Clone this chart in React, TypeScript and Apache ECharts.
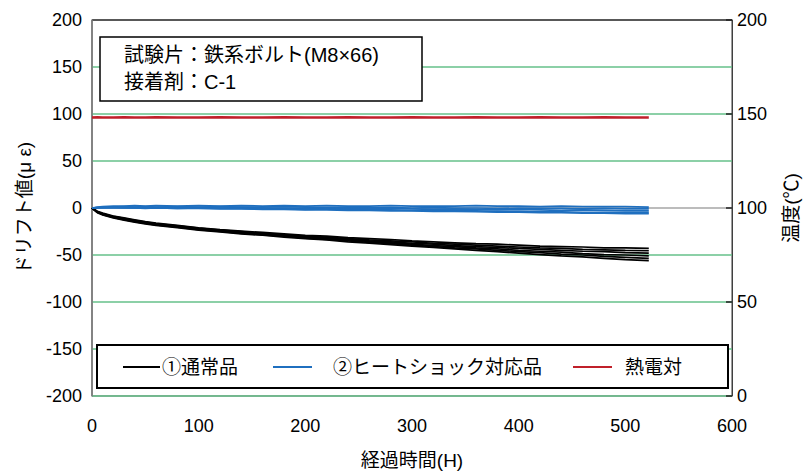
import React, { useEffect, useRef } from "react";
import * as echarts from "echarts";

const FONT = "'Liberation Sans', 'Noto Sans CJK JP', Arial, sans-serif";

const hours = [0, 5, 10, 20, 30, 40, 50, 60, 80, 100, 120, 140, 160, 180, 200, 220, 240, 260, 280, 300, 320, 340, 360, 380, 400, 420, 440, 460, 480, 500, 522];

const normalA = [0, -3.5, -5.5, -8.5, -10.5, -12.5, -14.5, -16, -18.5, -21, -23, -24.5, -26, -27.5, -29, -30, -31.5, -32.5, -33.5, -35, -36, -37, -38, -38.5, -39.5, -40.5, -41, -41.5, -42.5, -42.5, -43];
const normalB = [0, -4, -6, -9, -11, -13, -15, -16.5, -19, -21.5, -23.5, -25, -27, -28.5, -30, -31, -32.5, -34, -35, -36, -37.5, -38.5, -39.5, -40.5, -41.5, -42.5, -43, -44, -44.5, -45, -45.5];
const normalC = [0, -4, -6.5, -9.5, -11.5, -13.5, -15.5, -17, -19.5, -22, -24, -25.5, -27.5, -29, -30.5, -32, -33.5, -35, -36, -37.5, -38.5, -40, -41, -42, -43, -44, -45, -46, -46.5, -47.5, -48];
const normalD = [0, -4.5, -6.5, -9.5, -12, -14, -16, -17.5, -20, -22.5, -24.5, -26, -28, -29.5, -31, -32.5, -34, -35.5, -37, -38.5, -40, -41, -42.5, -43.5, -45, -46, -47, -48.5, -49.5, -50, -51];
const normalE = [0, -4.5, -7, -10, -12.5, -14.5, -16.5, -18, -20.5, -23, -25, -27, -28.5, -30, -32, -33.5, -35, -36.5, -38, -39.5, -41, -42.5, -43.5, -45, -46.5, -47.5, -49, -50, -51.5, -52.5, -53.5];
const normalF = [0, -5, -7.5, -10.5, -13, -15, -17, -18.5, -21, -23.5, -25.5, -27.5, -29, -31, -32.5, -34, -36, -37.5, -39, -40.5, -42, -43.5, -45, -46.5, -48, -49.5, -51, -52, -53.5, -55, -56];

const shockA = [0, 1, 1.5, 2, 2, 2.5, 2, 2.5, 2, 2.5, 2, 2.5, 2, 2.5, 2, 2.5, 2, 2, 2.5, 2, 2, 2, 2.5, 2, 2, 1.5, 2, 1.5, 1.5, 1.5, 1];
const shockB = [0, 0.5, 1, 1, 1.5, 1, 1.5, 1, 1.5, 1, 1.5, 1, 1, 1.5, 1, 0.5, 1, 0.5, 0.5, 0, 0.5, 0, 0, -0.5, 0, -0.5, -0.5, -1, -0.5, -1, -1];
const shockC = [0, 0.5, 0.5, 1, 1, 0.5, 1, 0.5, 0.5, 0.5, 0, 0.5, 0, 0, -0.5, 0, -0.5, -1, -0.5, -1, -1.5, -1, -1.5, -2, -1.5, -2, -2.5, -2, -2.5, -3, -3];
const shockD = [0, 0, 0.5, 0.5, 0, 0.5, 0, 0, -0.5, 0, -0.5, -0.5, -1, -1, -1.5, -1, -1.5, -2, -2, -2.5, -2.5, -3, -3, -3.5, -3.5, -4, -4, -4.5, -4.5, -5, -5];
const shockE = [0, 0, 0, 0.5, 0, 0, -0.5, 0, -0.5, -0.5, -1, -1, -1.5, -1.5, -2, -2, -2.5, -2.5, -3, -3, -3.5, -3.5, -4, -4.5, -4.5, -5, -5, -5.5, -5.5, -6, -6];

const thermo = [148.2, 148.3, 148.2, 148.2, 148.3, 148.2, 148.2, 148.3, 148.2, 148.2, 148.3, 148.2, 148.2, 148.3, 148.2, 148.2, 148.3, 148.2, 148.2, 148.3, 148.2, 148.2, 148.3, 148.2, 148.2, 148.3, 148.2, 148.2, 148.3, 148.2, 148.2];

const xTicks = { min: 0, max: 600, interval: 100 };
const leftTicks = { min: -200, max: 200, interval: 50 };
const rightTicks = { min: 0, max: 200, interval: 50 };

const nameNormal = "①通常品";
const nameShock = "②ヒートショック対応品";
const nameThermo = "熱電対";

const GREEN = "#66c08a";

function pairs(vals: number[]) {
  return hours.map((h, i) => [h, vals[i]]);
}

export default function App() {
  const ref = useRef<HTMLDivElement>(null);
  useEffect(() => {
    if (!ref.current) return;
    const chart = echarts.init(ref.current, null, { renderer: "svg" });
    const lineSeries = (name: string, vals: number[], color: string, yAxisIndex = 0, width = 1.7) => ({
      type: "line",
      name,
      data: pairs(vals),
      yAxisIndex,
      symbol: "none",
      lineStyle: { color, width },
      itemStyle: { color },
      z: 3,
    });
    const splitColors = [GREEN, GREEN, GREEN, GREEN, "#a6a6a6", GREEN, GREEN, GREEN, "#404040"];
    const option: any = {
      animation: false,
      textStyle: { fontFamily: FONT },
      grid: { left: 92, right: 71, top: 20, bottom: 73, show: true, borderColor: "#404040", borderWidth: 1 },
      xAxis: {
        type: "value",
        ...xTicks,
        axisLine: { show: false },
        axisTick: { show: false },
        splitLine: { show: false },
        axisLabel: { fontSize: 18, color: "#000", margin: 21, fontFamily: FONT },
        name: "経過時間(H)",
        nameLocation: "middle",
        nameGap: 55,
        nameTextStyle: { fontSize: 19, color: "#000", fontFamily: FONT },
      },
      yAxis: [
        {
          type: "value",
          ...leftTicks,
          position: "left",
          axisLine: { show: true, lineStyle: { color: "#7a7a7a", width: 1.5 } },
          axisTick: { show: false },
          splitLine: { show: true, lineStyle: { color: splitColors, width: 1.5 } },
          axisLabel: { fontSize: 18, color: "#000", margin: 10, fontFamily: FONT },
          name: "ドリフト値(μ ε)",
          nameLocation: "middle",
          nameRotate: 90,
          nameGap: 58,
          nameTextStyle: { fontSize: 19, color: "#000", fontFamily: FONT },
        },
        {
          type: "value",
          ...rightTicks,
          position: "right",
          axisLine: { show: true, lineStyle: { color: "#404040", width: 1 } },
          axisTick: { show: true, inside: true, length: 6, lineStyle: { color: "#202020", width: 1.5 } },
          splitLine: { show: false },
          axisLabel: { fontSize: 18, color: "#000", margin: 5, fontFamily: FONT },
          name: "温度(℃)",
          nameLocation: "middle",
          nameRotate: 90,
          nameGap: 50,
          nameTextStyle: { fontSize: 19, color: "#000", fontFamily: FONT },
        },
      ],
      series: [
        lineSeries(nameNormal, normalA, "#000000"),
        lineSeries(nameNormal, normalB, "#000000"),
        lineSeries(nameNormal, normalC, "#000000"),
        lineSeries(nameNormal, normalD, "#000000"),
        lineSeries(nameNormal, normalE, "#000000"),
        lineSeries(nameNormal, normalF, "#000000"),
        lineSeries(nameShock, shockA, "#1f6fbf"),
        lineSeries(nameShock, shockB, "#1f6fbf"),
        lineSeries(nameShock, shockC, "#1f6fbf"),
        lineSeries(nameShock, shockD, "#1f6fbf"),
        lineSeries(nameShock, shockE, "#1f6fbf"),
        lineSeries(nameThermo, thermo, "#c0202a", 1, 2.5),
      ],
      graphic: [
        {
          type: "rect",
          shape: { x: 100, y: 37, width: 322, height: 64 },
          style: { fill: "#fff", stroke: "#000", lineWidth: 1.5 },
          z: 10,
        },
        {
          type: "text",
          x: 124,
          y: 55,
          style: { text: "試験片：鉄系ボルト(M8×66)", fontSize: 20, fontFamily: FONT, fill: "#000", verticalAlign: "middle" },
          z: 11,
        },
        {
          type: "text",
          x: 124,
          y: 82,
          style: { text: "接着剤：C-1", fontSize: 20, fontFamily: FONT, fill: "#000", verticalAlign: "middle" },
          z: 11,
        },
        {
          type: "rect",
          shape: { x: 97, y: 345, width: 631, height: 43 },
          style: { fill: "#fff", stroke: "#000", lineWidth: 2 },
          z: 10,
        },
        { type: "line", shape: { x1: 123, y1: 367, x2: 160, y2: 367 }, style: { stroke: "#000", lineWidth: 2 }, z: 11 },
        {
          type: "text", x: 162, y: 367,
          style: { text: nameNormal, fontSize: 19, fontFamily: FONT, fill: "#000", verticalAlign: "middle" }, z: 11,
        },
        { type: "line", shape: { x1: 273, y1: 367, x2: 312, y2: 367 }, style: { stroke: "#1f6fbf", lineWidth: 2 }, z: 11 },
        {
          type: "text", x: 333, y: 367,
          style: { text: nameShock, fontSize: 19, fontFamily: FONT, fill: "#000", verticalAlign: "middle" }, z: 11,
        },
        { type: "line", shape: { x1: 573, y1: 367, x2: 612, y2: 367 }, style: { stroke: "#c0202a", lineWidth: 2 }, z: 11 },
        {
          type: "text", x: 625, y: 367,
          style: { text: nameThermo, fontSize: 19, fontFamily: FONT, fill: "#000", verticalAlign: "middle" }, z: 11,
        },
      ],
    };
    chart.setOption(option);
    return () => chart.dispose();
  }, []);
  return <div ref={ref} style={{ width: 809, height: 475, position: "absolute", left: 0, top: 0 }} />;
}
